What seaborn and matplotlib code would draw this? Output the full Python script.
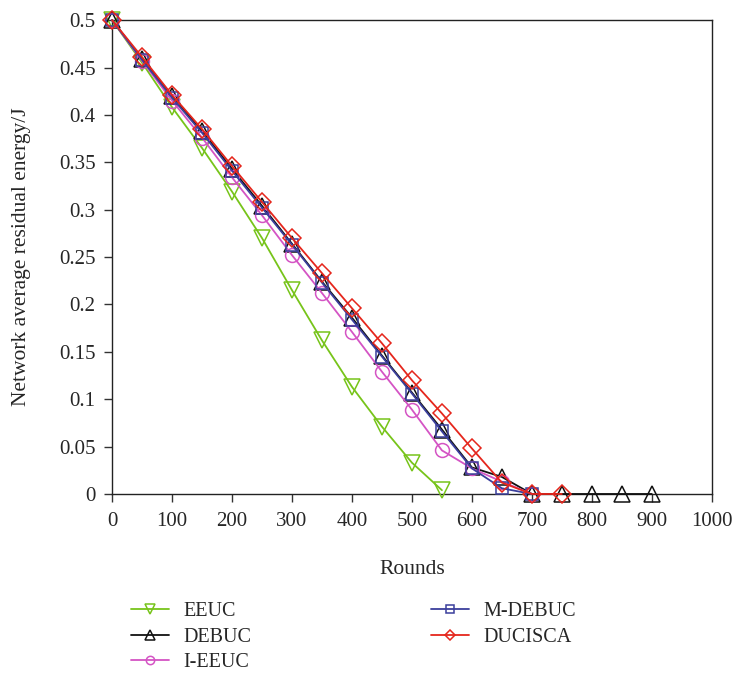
import matplotlib
matplotlib.use("Agg")
import matplotlib.pyplot as plt
import seaborn as sns
import pandas as pd

# Residual energy per round for each clustering protocol
rounds_eeuc = [0, 50, 100, 150, 200, 250, 300, 350, 400, 450, 500, 550]
eeuc = [0.5, 0.455, 0.408, 0.365, 0.319, 0.27, 0.215, 0.162, 0.113, 0.071, 0.033, 0.004]

rounds_debuc = [0, 50, 100, 150, 200, 250, 300, 350, 400, 450, 500, 550, 600, 650, 700, 750, 800, 850, 900]
debuc = [0.5, 0.459, 0.42, 0.383, 0.343, 0.304, 0.264, 0.224, 0.186, 0.146, 0.107, 0.068, 0.028, 0.018, 0.0, 0.0, 0.0, 0.0, 0.0]

rounds_ieeuc = [0, 50, 100, 150, 200, 250, 300, 350, 400, 450, 500, 550, 600, 650, 700]
ieeuc = [0.5, 0.457, 0.415, 0.376, 0.334, 0.294, 0.252, 0.212, 0.171, 0.129, 0.089, 0.046, 0.027, 0.013, 0.0]

rounds_mdebuc = [0, 50, 100, 150, 200, 250, 300, 350, 400, 450, 500, 550, 600, 650, 700]
mdebuc = [0.5, 0.458, 0.418, 0.381, 0.341, 0.302, 0.263, 0.223, 0.184, 0.145, 0.106, 0.066, 0.027, 0.006, 0.0]

rounds_ducisca = [0, 50, 100, 150, 200, 250, 300, 350, 400, 450, 500, 550, 600, 650, 700, 750]
ducisca = [0.5, 0.461, 0.421, 0.385, 0.346, 0.308, 0.27, 0.233, 0.196, 0.159, 0.12, 0.085, 0.048, 0.012, 0.0, 0.0]

names = ["EEUC", "DEBUC", "I-EEUC", "M-DEBUC", "DUCISCA"]
series = [(rounds_eeuc, eeuc), (rounds_debuc, debuc), (rounds_ieeuc, ieeuc),
          (rounds_mdebuc, mdebuc), (rounds_ducisca, ducisca)]
colors = ["#77c41a", "#111111", "#d454c4", "#3b3f9c", "#e5261c"]
markers = ["v", "^", "o", "s", "D"]
msizes = [11, 11, 10, 9, 9]

xticks = [0, 100, 200, 300, 400, 500, 600, 700, 800, 900, 1000]
yticks = [0, 0.05, 0.1, 0.15, 0.2, 0.25, 0.3, 0.35, 0.4, 0.45, 0.5]
ytick_labels = ["0", "0.05", "0.1", "0.15", "0.2", "0.25", "0.3", "0.35", "0.4", "0.45", "0.5"]

sns.set_style("ticks")
plt.rcParams["font.family"] = ["Liberation Serif", "DejaVu Serif"]
plt.rcParams["xtick.direction"] = "out"
plt.rcParams["ytick.direction"] = "out"

fig = plt.figure(figsize=(7.33, 6.73), dpi=100)
ax = fig.add_axes([0.153, 0.266, 0.818, 0.704])

for name, (xs, ys), c, m, ms in zip(names, series, colors, markers, msizes):
    df = pd.DataFrame({"Rounds": xs, "Energy": ys})
    sns.lineplot(data=df, x="Rounds", y="Energy", ax=ax, color=c, linewidth=1.3,
                 marker=m, markersize=ms, markerfacecolor="none",
                 markeredgecolor=c, markeredgewidth=1.1, label=name,
                 clip_on=False, zorder=3)

ax.set_xlim(0, 1000)
ax.set_ylim(0, 0.5)
ax.set_xticks(xticks)
ax.set_xticklabels([str(v) for v in xticks], fontsize=15)
ax.set_yticks(yticks)
ax.set_yticklabels(ytick_labels, fontsize=15)
ax.tick_params(axis="both", length=6, width=1, color="#333333")
ax.tick_params(axis="x", pad=7)
ax.tick_params(axis="y", pad=6)
for s in ax.spines.values():
    s.set_linewidth(1.0)
    s.set_color("#222222")

ax.set_xlabel("Rounds", fontsize=15.5, labelpad=21)
ax.set_ylabel("Network average residual energy/J", fontsize=15.5, labelpad=20)

ax.get_legend().remove()
handles, labels = ax.get_legend_handles_labels()
fig.legend(handles, labels, loc="upper left", bbox_to_anchor=(0.168, 0.117),
           ncol=2, frameon=False, fontsize=14.5, markerscale=0.6, handlelength=1.9,
           columnspacing=8.9, labelspacing=0.3, handletextpad=0.7,
           borderaxespad=0)

fig.savefig("out.png", dpi=100)
